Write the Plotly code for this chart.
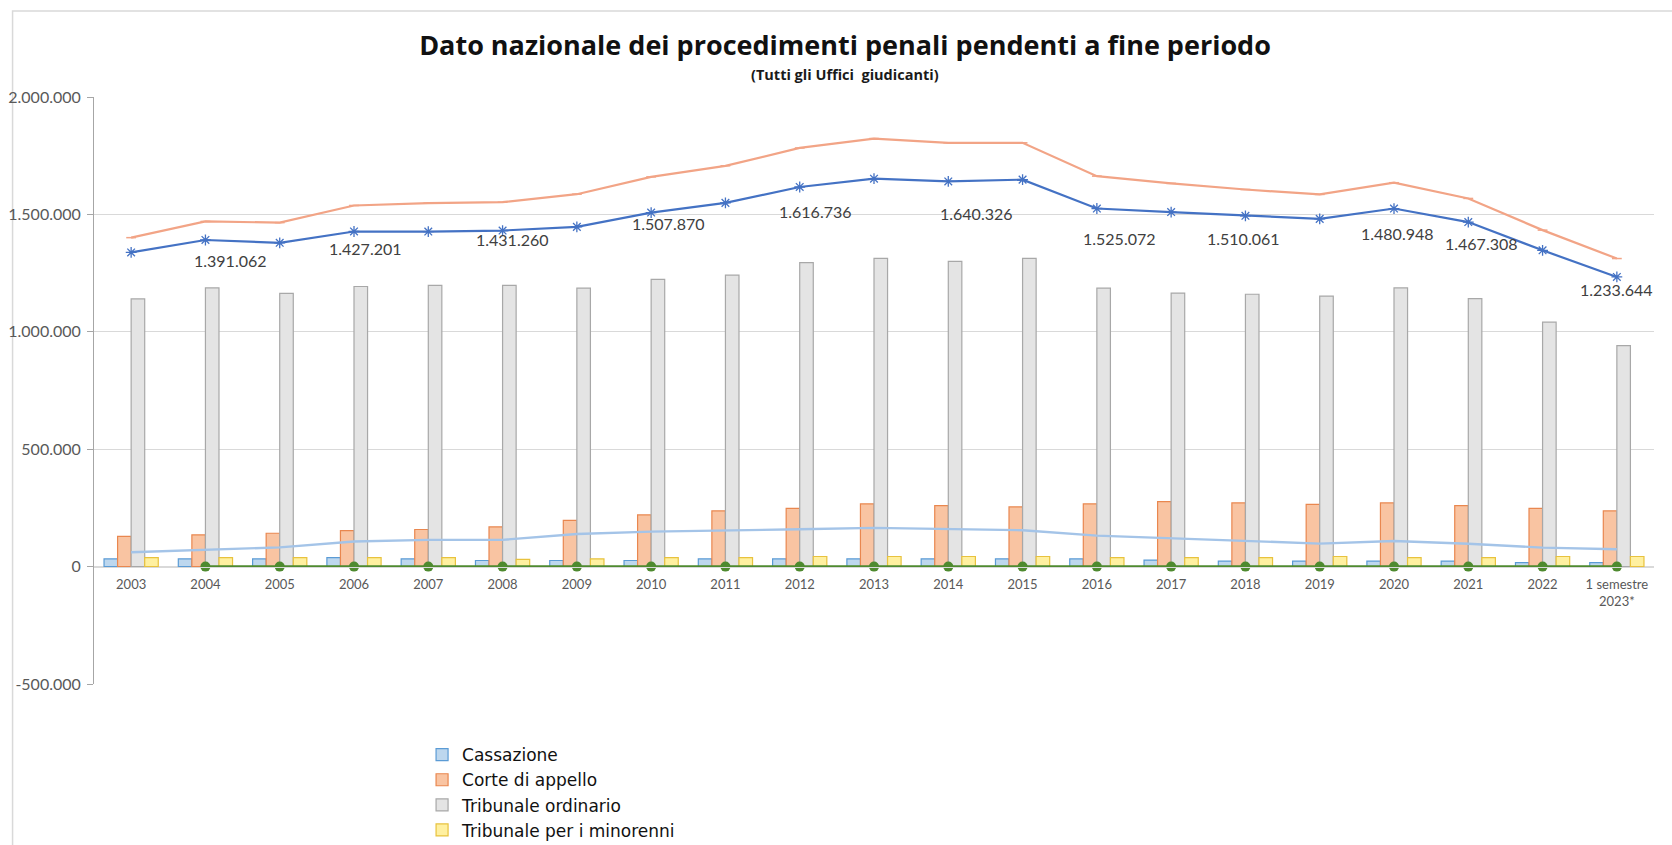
import plotly.graph_objects as go

# ---------------- data ----------------
categories = ["2003", "2004", "2005", "2006", "2007", "2008", "2009", "2010", "2011", "2012",
              "2013", "2014", "2015", "2016", "2017", "2018", "2019", "2020", "2021", "2022",
              "1 semestre<br>2023*"]

cassazione = [33000, 33000, 33000, 38000, 33000, 26000, 26000, 26000, 33000, 33000, 33000,
              33000, 33000, 33000, 28000, 23000, 23000, 23000, 23000, 17000, 17000]
corte_appello = [129000, 135000, 142000, 153000, 158000, 169000, 197000, 220000, 237000, 248000,
                 267000, 260000, 254000, 267000, 277000, 271000, 265000, 271000, 260000, 248000, 237000]
tribunale_ordinario = [1140000, 1187000, 1164000, 1193000, 1198000, 1198000, 1186000, 1223000,
                       1241000, 1295000, 1313000, 1300000, 1313000, 1186000, 1165000, 1160000,
                       1152000, 1187000, 1141000, 1041000, 941000]
tribunale_minorenni = [38000, 38000, 38000, 38000, 38000, 31000, 33000, 38000, 38000, 43000, 43000,
                       43000, 43000, 38000, 38000, 38000, 43000, 38000, 38000, 43000, 43000]
giudice_di_pace = [61000, 72000, 82000, 107000, 114000, 114000, 139000, 149000, 153000, 159000,
                   165000, 159000, 155000, 132000, 121000, 109000, 98000, 109000, 97000, 81000, 74000]
totale_uffici_giudicanti = [1338000, 1391062, 1379000, 1427201, 1427000, 1431260, 1447000, 1507870,
                            1549000, 1616736, 1652000, 1640326, 1648000, 1525072, 1510061, 1494000,
                            1480948, 1525000, 1467308, 1347000, 1233644]
totale_con_gdp = [1401000, 1470000, 1465000, 1538000, 1548000, 1552000, 1586000, 1660000, 1707000,
                  1783000, 1823000, 1805000, 1805000, 1663000, 1632000, 1606000, 1585000, 1635000,
                  1568000, 1433000, 1312000]
altri_uffici = [None] + [0] * 20

y_tick_values = [-500000, 0, 500000, 1000000, 1500000, 2000000]

# indices of the total-series points that carry a data label
label_idx = [1, 3, 5, 7, 9, 11, 13, 14, 16, 18, 20]
# label offsets in px (style)
label_shift = [(25, -21), (11, -17), (10, -9), (17, -11), (16, -25), (28, -32),
               (23, -30), (72, -26), (78, -15), (13, -21), (0, -13)]


def it_fmt(v):
    s = f"{abs(v):,}".replace(",", ".")
    return ("-" if v < 0 else "") + s


FONT = "Lato"

fig = go.Figure()

bar_specs = [
    ("Cassazione", cassazione, "#BDD7EE", "#5B9BD5"),
    ("Corte di appello", corte_appello, "#F9C4A2", "#E9874F"),
    ("Tribunale ordinario", tribunale_ordinario, "#E4E4E4", "#A8A8A8"),
    ("Tribunale per i minorenni", tribunale_minorenni, "#FFF0A0", "#E8C23E"),
]
for name, vals, fill, line in bar_specs:
    fig.add_trace(go.Bar(x=categories, y=vals, name=name,
                         marker=dict(color=fill, line=dict(color=line, width=1.2))))

fig.add_trace(go.Scatter(x=categories, y=giudice_di_pace, name="Giudice di pace",
                         mode="lines", line=dict(color="#A4C4E8", width=2.4)))
fig.add_trace(go.Scatter(x=categories, y=totale_con_gdp, name="Totale con Giudice di pace",
                         mode="lines+markers",
                         line=dict(color="#F2A486", width=2.2),
                         marker=dict(symbol="line-ew-open", size=7,
                                     line=dict(color="#E8946F", width=1.5))))
fig.add_trace(go.Scatter(x=categories, y=totale_uffici_giudicanti, name="Totale uffici giudicanti",
                         mode="lines+markers",
                         line=dict(color="#4472C4", width=2.2),
                         marker=dict(symbol="asterisk-open", size=9,
                                     line=dict(color="#4472C4", width=1.3))))
fig.add_trace(go.Scatter(x=categories, y=altri_uffici, name="Altri uffici",
                         mode="lines+markers",
                         line=dict(color="#4E8A2F", width=2.5),
                         marker=dict(symbol="circle", size=10, color="#4E8A2F")))

annotations = []
for k, i in enumerate(label_idx):
    dx, dy = label_shift[k]
    annotations.append(dict(x=i, y=totale_uffici_giudicanti[i], xref="x", yref="y",
                            text=it_fmt(totale_uffici_giudicanti[i]), showarrow=False,
                            xshift=dx, yshift=dy,
                            font=dict(family=FONT, size=16, color="#404040")))
annotations.append(dict(x=0.4814, y=1.0375, xref="paper", yref="paper",
                        text="<b>(Tutti gli Uffici  giudicanti)</b>", showarrow=False,
                        xanchor="center", yanchor="middle",
                        font=dict(family="Open Sans", size=14.5, color="#1a1a1a")))

fig.update_layout(
    width=1672, height=845,
    margin=dict(l=94, r=18, t=97, b=161, autoexpand=False),
    paper_bgcolor="white", plot_bgcolor="white",
    barmode="group", bargap=0.27, bargroupgap=0,
    title=dict(text="<b>Dato nazionale dei procedimenti penali pendenti a fine periodo</b>",
               x=0.5054, xanchor="center", y=1 - 46 / 845, yanchor="middle",
               font=dict(family="Open Sans", size=27, color="#111111")),
    font=dict(family=FONT),
    showlegend=True,
    legend=dict(x=0.2103, xanchor="left", y=-0.0905, yanchor="top",
                orientation="v", traceorder="normal",
                font=dict(family="DejaVu Sans", size=17, color="#111111"),
                bgcolor="rgba(0,0,0,0)", borderwidth=0),
    annotations=annotations,
    shapes=[dict(type="rect", xref="paper", yref="paper",
                 x0=-0.0522, x1=1.05, y0=-0.5, y1=1.1465,
                 line=dict(color="#D9D9D9", width=1.5), layer="below")],
    xaxis=dict(type="category", categoryorder="array", categoryarray=categories,
               range=[-0.5, len(categories) - 0.5],
               anchor="free", position=0.2, showline=True, linecolor="#D9D9D9", linewidth=1,
               ticks="", showgrid=False, zeroline=False, ticklabelstandoff=6,
               tickfont=dict(family=FONT, size=13, color="#595959")),
    yaxis=dict(range=[-500000, 2000000], tickvals=y_tick_values,
               ticktext=[it_fmt(v) for v in y_tick_values],
               showgrid=True, gridcolor="#D9D9D9", gridwidth=1, zeroline=False,
               showline=True, linecolor="#A6A6A6", linewidth=1,
               ticks="outside", ticklen=6, tickcolor="#A6A6A6", ticklabelstandoff=3,
               tickfont=dict(family=FONT, size=16, color="#595959")),
)

fig.write_html("out.html", config={"displayModeBar": False},
               post_script="document.body.style.margin='0';document.body.style.overflow='hidden';")
